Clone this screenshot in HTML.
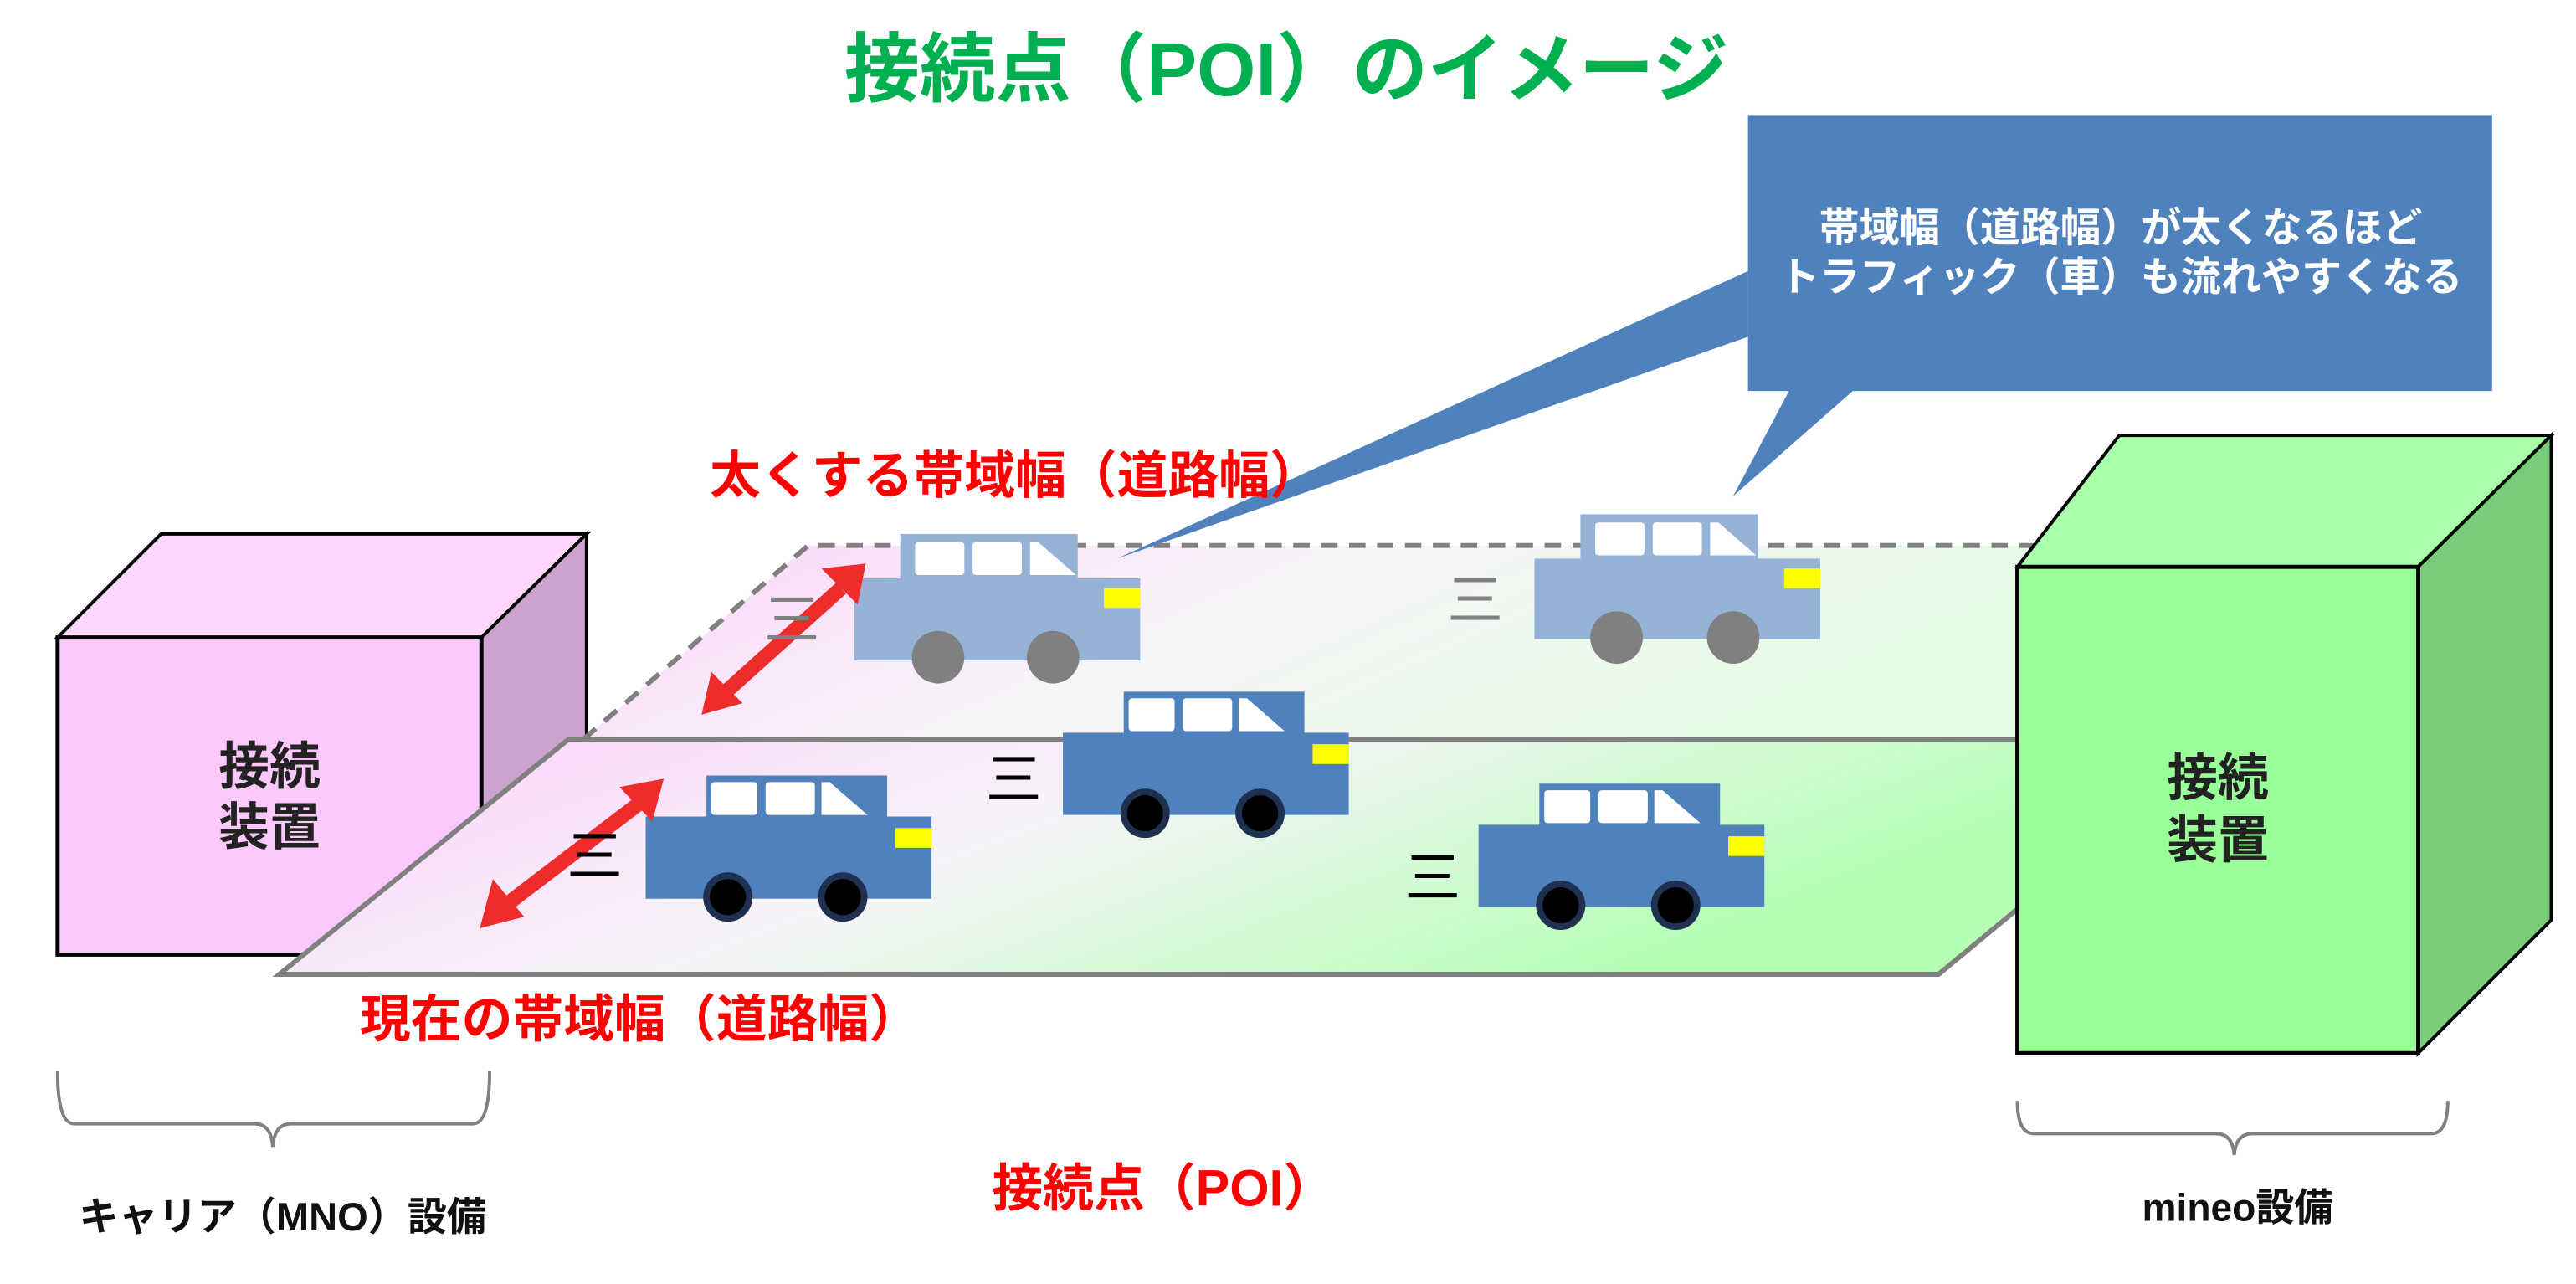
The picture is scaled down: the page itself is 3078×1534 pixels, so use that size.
<!DOCTYPE html>
<html><head><meta charset="utf-8"><style>
html,body{margin:0;padding:0;background:#fff;}
svg{display:block}
text{font-family:"Liberation Sans","Noto Sans CJK JP",sans-serif;font-weight:bold}
</style></head><body>
<svg width="3078" height="1534" viewBox="0 0 1568 781.5" xmlns="http://www.w3.org/2000/svg">
<defs>
<linearGradient id="rg" x1="0" y1="0" x2="1" y2="0.35">
<stop offset="0" stop-color="#FCD0FC"/><stop offset="0.5" stop-color="#F6F4F8"/><stop offset="1" stop-color="#B4FFB4"/>
</linearGradient>
<linearGradient id="rg2" x1="0" y1="0" x2="1" y2="0.3">
<stop offset="0" stop-color="#FCD4FC"/><stop offset="0.5" stop-color="#F7F5F8"/><stop offset="1" stop-color="#E4FCE4"/>
</linearGradient>
</defs>
<text x="783" y="58" font-size="46" fill="#00B050" text-anchor="middle">接続点（POI）のイメージ</text>

<!-- left box -->
<polygon points="35,388 98,325 357,325 293,388" fill="#FDD5FD" stroke="#000" stroke-width="2"/>
<polygon points="293,388 357,325 357,580 293,581" fill="#CCA3CC" stroke="#000" stroke-width="2"/>
<rect x="35" y="388" width="258" height="193" fill="#FBC8FB" stroke="#000" stroke-width="2.5"/>
<text x="164" y="477" font-size="31" fill="#222" text-anchor="middle">接続</text>
<text x="164" y="514" font-size="31" fill="#222" text-anchor="middle">装置</text>

<!-- upper road -->
<polygon points="492,332 1240,332 1240,450 355,450" fill="url(#rg2)"/>
<polyline points="355,450 492,332 1240,332" fill="none" stroke="#808080" stroke-width="3" stroke-dasharray="10,7"/>
<!-- lower road -->
<polygon points="346,450 1232,450 1232,550 1180,593 170,593" fill="url(#rg)" stroke="#808080" stroke-width="3"/>

<!-- right box -->
<polygon points="1228,345 1290,265 1553,265 1472,345" fill="#AAFFAA" stroke="#000" stroke-width="2"/>
<polygon points="1472,345 1553,265 1553,560 1472,641" fill="#7ACC7A" stroke="#000" stroke-width="2"/>
<rect x="1228" y="345" width="244" height="296" fill="#99FF99" stroke="#000" stroke-width="2.5"/>
<text x="1350" y="484" font-size="31" fill="#222" text-anchor="middle">接続</text>
<text x="1350" y="522" font-size="31" fill="#222" text-anchor="middle">装置</text>

<!-- callout -->
<polygon points="1064,165 1064,205 680,340" fill="#4F81BD"/>
<polygon points="1090,236 1130,236 1055,302" fill="#4F81BD"/>
<rect x="1064" y="70" width="453" height="168" fill="#4F81BD"/>
<text x="1291" y="147" font-size="24.5" fill="#fff" text-anchor="middle">帯域幅（道路幅）が太くなるほど</text>
<text x="1291" y="177" font-size="24.5" fill="#fff" text-anchor="middle">トラフィック（車）も流れやすくなる</text>

<!-- light cars -->
<g>
<rect x="548" y="325" width="108" height="28" fill="#95B3D7"/>
<rect x="520" y="352" width="174" height="50" fill="#95B3D7"/>
<rect x="557" y="330" width="30" height="20" rx="2" fill="#fff"/>
<rect x="592" y="330" width="30" height="20" rx="2" fill="#fff"/>
<polygon points="627,330 632,330 655,350 627,350" fill="#fff"/>
<rect x="672" y="358" width="22" height="12" fill="#FFFF00"/>
<circle cx="571" cy="400" r="16" fill="#808080"/><circle cx="641" cy="400" r="16" fill="#808080"/>
</g>
<g>
<rect x="962" y="313" width="108" height="28" fill="#95B3D7"/>
<rect x="934" y="340" width="174" height="49" fill="#95B3D7"/>
<rect x="971" y="318" width="30" height="20" rx="2" fill="#fff"/>
<rect x="1006" y="318" width="30" height="20" rx="2" fill="#fff"/>
<polygon points="1041,318 1046,318 1069,338 1041,338" fill="#fff"/>
<rect x="1086" y="346" width="22" height="12" fill="#FFFF00"/>
<circle cx="984" cy="388" r="16" fill="#808080"/><circle cx="1055" cy="388" r="16" fill="#808080"/>
</g>
<!-- dark cars -->
<g>
<rect x="430" y="472" width="110" height="26" fill="#4F81BD"/>
<rect x="393" y="497" width="174" height="50" fill="#4F81BD"/>
<rect x="433" y="476" width="28" height="20" rx="2" fill="#fff"/>
<rect x="466" y="476" width="30" height="20" rx="2" fill="#fff"/>
<polygon points="500,476 505,476 528,496 500,496" fill="#fff"/>
<rect x="545" y="504" width="22" height="12" fill="#FFFF00"/>
<circle cx="443" cy="546" r="13" fill="#000" stroke="#1F3050" stroke-width="4"/><circle cx="513" cy="546" r="13" fill="#000" stroke="#1F3050" stroke-width="4"/>
</g>
<g transform="translate(254,-51)">
<rect x="430" y="472" width="110" height="26" fill="#4F81BD"/>
<rect x="393" y="497" width="174" height="50" fill="#4F81BD"/>
<rect x="433" y="476" width="28" height="20" rx="2" fill="#fff"/>
<rect x="466" y="476" width="30" height="20" rx="2" fill="#fff"/>
<polygon points="500,476 505,476 528,496 500,496" fill="#fff"/>
<rect x="545" y="504" width="22" height="12" fill="#FFFF00"/>
<circle cx="443" cy="546" r="13" fill="#000" stroke="#1F3050" stroke-width="4"/><circle cx="513" cy="546" r="13" fill="#000" stroke="#1F3050" stroke-width="4"/>
</g>
<g transform="translate(507,5)">
<rect x="430" y="472" width="110" height="26" fill="#4F81BD"/>
<rect x="393" y="497" width="174" height="50" fill="#4F81BD"/>
<rect x="433" y="476" width="28" height="20" rx="2" fill="#fff"/>
<rect x="466" y="476" width="30" height="20" rx="2" fill="#fff"/>
<polygon points="500,476 505,476 528,496 500,496" fill="#fff"/>
<rect x="545" y="504" width="22" height="12" fill="#FFFF00"/>
<circle cx="443" cy="546" r="13" fill="#000" stroke="#1F3050" stroke-width="4"/><circle cx="513" cy="546" r="13" fill="#000" stroke="#1F3050" stroke-width="4"/>
</g>

<!-- red arrows -->
<g fill="#EE2C2C">
<line x1="512" y1="358" x2="443" y2="420" stroke="#EE2C2C" stroke-width="9"/>
<polygon points="527,343 500,346 522,368" />
<polygon points="427,435 452,428 433,409"/>
<line x1="389" y1="489" x2="309" y2="550" stroke="#EE2C2C" stroke-width="9"/>
<polygon points="404,474 377,479 397,500"/>
<polygon points="292,565 319,558 300,535"/>
</g>
<!-- 三 marks -->
<g font-size="34">
<text x="465" y="389" fill="#808080" style="font-weight:normal">三</text>
<text x="881" y="377" fill="#808080" style="font-weight:normal">三</text>
<text x="345" y="533" fill="#000" style="font-weight:normal">三</text>
<text x="600" y="486" fill="#000" style="font-weight:normal">三</text>
<text x="855" y="546" fill="#000" style="font-weight:normal">三</text>
</g>

<!-- red labels -->
<text x="432" y="300" font-size="31" fill="#FF0000">太くする帯域幅（道路幅）</text>
<text x="219" y="631" font-size="31" fill="#FF0000">現在の帯域幅（道路幅）</text>
<text x="708" y="734" font-size="31" fill="#FF0000" text-anchor="middle">接続点（POI）</text>

<!-- brackets -->
<path d="M35,652 Q35,684 45,684 L155,684 Q165,684 166,698 Q167,684 177,684 L288,684 Q298,684 298,652" fill="none" stroke="#808080" stroke-width="2"/>
<text x="172" y="749" font-size="24" fill="#111" text-anchor="middle">キャリア（MNO）設備</text>
<path d="M1228,670 Q1228,690 1238,690 L1349,690 Q1359,690 1360,703 Q1361,690 1371,690 L1480,690 Q1490,690 1490,670" fill="none" stroke="#808080" stroke-width="2"/>
<text x="1362" y="743" font-size="23.5" fill="#111" text-anchor="middle">mineo設備</text>
</svg>
</body></html>
